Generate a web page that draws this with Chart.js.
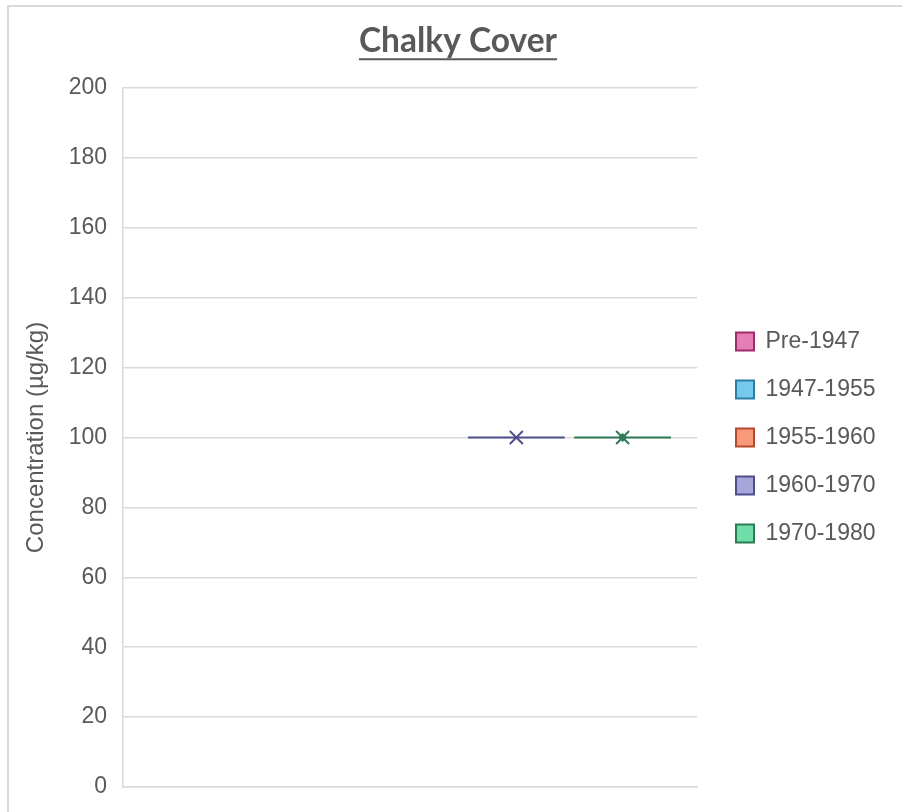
<!DOCTYPE html>
<html lang="en">
<head>
<meta charset="UTF-8">
<title>Chalky Cover</title>
<script src="https://cdn.jsdelivr.net/npm/chart.js"></script>
<style>
  html, body { margin: 0; padding: 0; background: #fff; overflow: hidden; }
  .frame {
    position: absolute; left: 7px; top: 5px;
    width: 1000px; height: 1000px;
    border: 2px solid #d9d9d9;
  }
  #chart { position: absolute; left: 0; top: 0; }
</style>
</head>
<body>
<div class="frame"></div>
<canvas id="chart" width="902" height="812"></canvas>
<script>
// data (box & whisker, one category)
const categories = [''];
const seriesNames = ['Pre-1947', '1947-1955', '1955-1960', '1960-1970', '1970-1980'];
const minValues    = [null, null, null, 100, 100];
const q1Values     = [null, null, null, 100, 100];
const medianValues = [null, null, null, 100, 100];
const q3Values     = [null, null, null, 100, 100];
const maxValues    = [null, null, null, 100, 100];
const meanValues   = [null, null, null, 100, 100];
const yMin = 0, yMax = 200, yStep = 20;

// styles
const fillColors   = ['#e57db6', '#76c9ec', '#f69a7b', '#a6a6d8', '#6fdea9'];
const strokeColors = ['#9e2d6a', '#2a7ea3', '#b34a2f', '#4e4e8c', '#2d7a55'];
const meanFilled   = [false, false, false, false, true];

const grey = '#595959';
const gridGrey = '#d9d9d9';
const titleFont = { family: 'Lato', size: 33.5, weight: 'bold' };
const titlePad = { top: 21, bottom: 26.8 };

const line = (ctx, x1, y1, x2, y2) => {
  ctx.beginPath(); ctx.moveTo(x1, y1); ctx.lineTo(x2, y2); ctx.stroke();
};

// median line, mean marker and whiskers on top of the (floating) boxes
const boxPlotExtras = {
  id: 'boxPlotExtras',
  afterDatasetsDraw(chart) {
    const ctx = chart.ctx;
    const y = chart.scales.y;
    chart.data.datasets.forEach((ds, i) => {
      const el = chart.getDatasetMeta(i).data[0];
      if (!el || medianValues[i] == null) return;
      const x = el.x, half = el.width / 2;
      ctx.save();
      ctx.strokeStyle = strokeColors[i];
      ctx.fillStyle = strokeColors[i];
      ctx.lineWidth = 2.2;

      [[minValues[i], q1Values[i]], [maxValues[i], q3Values[i]]].forEach(([end, edge]) => {
        if (end == null || end === edge) return;
        const ye = y.getPixelForValue(end);
        line(ctx, x, y.getPixelForValue(edge), x, ye);
        line(ctx, x - half / 2, ye, x + half / 2, ye);
      });

      const ym = y.getPixelForValue(medianValues[i]);
      line(ctx, x - half, ym, x + half, ym);

      if (meanValues[i] != null) {
        const yc = y.getPixelForValue(meanValues[i]);
        const r = 6.5;
        ctx.lineWidth = 2;
        line(ctx, x - r, yc - r, x + r, yc + r);
        line(ctx, x - r, yc + r, x + r, yc - r);
        if (meanFilled[i]) {
          ctx.beginPath();
          ctx.moveTo(x, yc - 4.5); ctx.lineTo(x + 4.5, yc);
          ctx.lineTo(x, yc + 4.5); ctx.lineTo(x - 4.5, yc);
          ctx.closePath(); ctx.fill();
        }
      }
      ctx.restore();
    });
  }
};

// underline for the chart title
const titleUnderline = {
  id: 'titleUnderline',
  afterDraw(chart) {
    const t = chart.titleBlock;
    if (!t) return;
    const ctx = chart.ctx;
    const text = chart.options.plugins.title.text;
    ctx.save();
    ctx.font = `${titleFont.weight} ${titleFont.size}px ${titleFont.family}`;
    const w = ctx.measureText(text).width;
    const cx = (t.left + t.right) / 2;
    const cy = t.top + titlePad.top + titleFont.size * 1.2 / 2 + titleFont.size * 0.54;
    ctx.strokeStyle = grey;
    ctx.lineWidth = 2;
    line(ctx, cx - w / 2, cy, cx + w / 2, cy);
    ctx.restore();
  }
};

const datasets = seriesNames.map((name, i) => ({
  label: name,
  data: [q1Values[i] == null ? null : [q1Values[i], q3Values[i]]],
  backgroundColor: fillColors[i],
  borderColor: strokeColors[i],
  borderWidth: 2,
  borderSkipped: false,
  categoryPercentage: 0.926,
  barPercentage: 0.91
}));

new Chart(document.getElementById('chart'), {
  type: 'bar',
  data: { labels: categories, datasets },
  plugins: [boxPlotExtras, titleUnderline],
  options: {
    responsive: false,
    animation: false,
    layout: {
      padding: { left: 30.5, right: 16.5, top: 0, bottom: 25 }
    },
    plugins: {
      title: {
        display: true,
        text: 'Chalky Cover',
        color: grey,
        font: titleFont,
        padding: titlePad
      },
      legend: {
        position: 'right',
        fullSize: false,
        maxWidth: 300,
        labels: {
          color: grey,
          font: { family: 'Liberation Sans', size: 23 },
          boxWidth: 18,
          boxHeight: 18,
          padding: 25
        }
      },
      tooltip: { enabled: false }
    },
    scales: {
      x: {
        afterFit: s => { s.height = 0; },
        grid: { display: false, drawTicks: false },
        ticks: { display: false },
        border: { display: true, color: gridGrey, width: 1.5 }
      },
      y: {
        min: yMin,
        max: yMax,
        afterFit: s => { s.width = 92.5; },
        ticks: {
          stepSize: yStep,
          color: grey,
          padding: 16,
          font: { family: 'Liberation Sans', size: 23, lineHeight: 0.7 }
        },
        grid: { color: gridGrey, lineWidth: 1.5, drawTicks: false },
        border: { display: true, color: gridGrey, width: 1.5 },
        title: {
          display: true,
          text: 'Concentration (µg/kg)',
          color: grey,
          padding: { top: -9, bottom: 0 },
          font: { family: 'Liberation Sans', size: 24 }
        }
      },
      // spacer between plot area and legend
      yr: {
        position: 'right',
        grid: { display: false, drawTicks: false },
        ticks: { display: false },
        border: { display: false },
        afterFit: s => { s.width = 14; }
      }
    }
  }
});
</script>
</body>
</html>
